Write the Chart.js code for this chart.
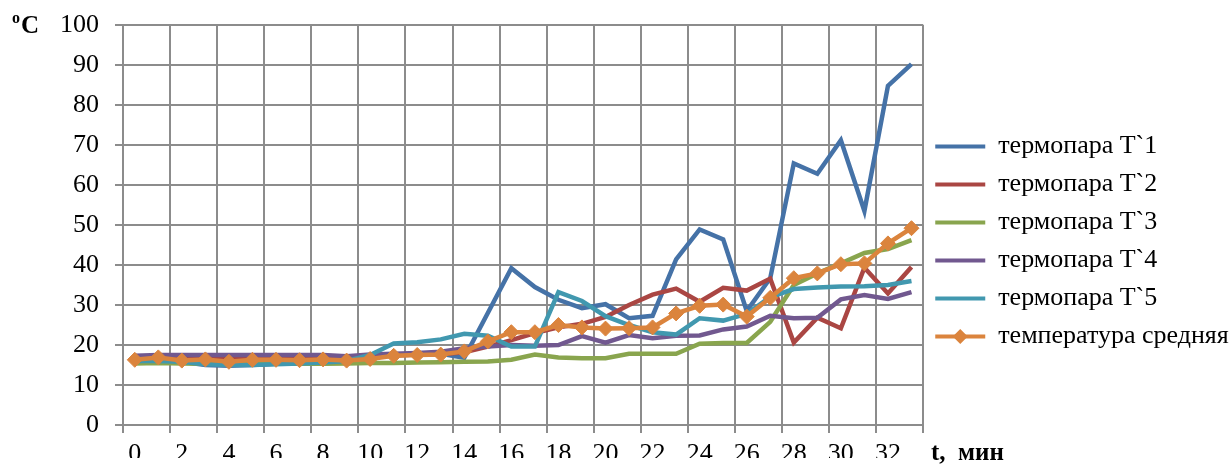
<!DOCTYPE html>
<html>
<head>
<meta charset="utf-8">
<script src="https://cdn.jsdelivr.net/npm/chart.js@4"></script>
<style>
  html, body { margin: 0; padding: 0; background: #fff; }
</style>
</head>
<body>
<canvas id="myChart" width="1231" height="466"></canvas>
<script>
const minutes = [0, 1, 2, 3, 4, 5, 6, 7, 8, 9, 10, 11, 12, 13, 14, 15, 16,
                 17, 18, 19, 20, 21, 22, 23, 24, 25, 26, 27, 28, 29, 30, 31, 32, 33];

const t1 = [16.3, 16.3, 15.8, 15.0, 14.8, 15.0, 15.3, 15.6, 16.0, 16.3, 16.8, 17.5, 17.8, 17.8, 16.8, 28.0, 39.2,
            34.5, 31.3, 29.2, 30.2, 26.7, 27.3, 41.4, 48.9, 46.4, 28.5, 36.7, 65.4, 62.8, 71.2, 53.5, 84.8, 90.2];
const t2 = [16.8, 16.9, 16.7, 16.7, 16.6, 16.7, 16.8, 16.8, 16.9, 16.8, 17.0, 17.4, 17.6, 17.7, 18.2, 19.6, 21.2,
            23.0, 24.4, 25.3, 27.0, 30.0, 32.6, 34.1, 30.8, 34.3, 33.6, 36.6, 20.6, 26.8, 24.2, 39.3, 32.9, 39.5];
const t3 = [15.4, 15.5, 15.4, 15.3, 15.3, 15.3, 15.3, 15.3, 15.3, 15.4, 15.5, 15.5, 15.6, 15.7, 15.8, 15.9, 16.3,
            17.6, 16.9, 16.7, 16.7, 17.8, 17.8, 17.8, 20.3, 20.5, 20.5, 25.8, 35.0, 37.9, 40.4, 43.0, 44.0, 46.2];
const t4 = [17.3, 17.5, 17.5, 17.5, 17.5, 17.5, 17.5, 17.5, 17.5, 17.2, 17.6, 17.8, 18.0, 18.3, 19.2, 19.6, 20.0,
            19.8, 20.0, 22.2, 20.6, 22.5, 21.7, 22.3, 22.4, 23.9, 24.6, 27.3, 26.7, 26.8, 31.4, 32.5, 31.5, 33.2];
const t5 = [16.0, 16.0, 15.8, 15.2, 15.0, 15.0, 15.2, 15.4, 15.6, 16.0, 17.5, 20.4, 20.7, 21.4, 22.8, 22.3, 19.6,
            19.6, 33.2, 31.0, 27.2, 25.0, 23.2, 22.6, 26.7, 26.1, 27.8, 32.0, 34.0, 34.4, 34.6, 34.7, 35.0, 36.0];
const avg = [16.3, 16.9, 16.1, 16.4, 15.8, 16.3, 16.3, 16.2, 16.4, 16.1, 16.5, 17.3, 17.5, 17.6, 18.4, 20.9, 23.2,
             23.2, 25.0, 24.4, 24.1, 24.2, 24.4, 27.9, 29.8, 30.1, 27.1, 31.8, 36.7, 37.9, 40.2, 40.4, 45.4, 49.2];

const seriesNames = ['термопара T`1', 'термопара T`2', 'термопара T`3', 'термопара T`4', 'термопара T`5', 'температура средняя'];
const seriesColors = ['#4572A7', '#AA4643', '#89A54E', '#71588F', '#4198AF', '#DB843D'];
const yTicks = { min: 0, max: 100, step: 10 };

const FONT = '"Liberation Serif", "Times New Roman", serif';
const FONT_SIZE = 26;
const GRID = '#8c8c8c';
const LEGEND_PAD = 12;
const LEGEND_BOX = 50;

// leave room on the right so the legend column fits next to the plot
const measure = document.createElement('canvas').getContext('2d');
measure.font = FONT_SIZE + 'px ' + FONT;
const widestName = Math.max(...seriesNames.map(s => measure.measureText(s).width));
const legendWidth = LEGEND_PAD + LEGEND_BOX + FONT_SIZE / 2 + widestName + 10;
const rightPad = Math.max(0, 1231 - 918 - legendWidth);

Chart.defaults.font.family = FONT;
Chart.defaults.font.size = FONT_SIZE;
Chart.defaults.color = '#000';

const values = [t1, t2, t3, t4, t5, avg];
const datasets = values.map((v, i) => ({
  label: seriesNames[i],
  data: v,
  borderColor: seriesColors[i],
  backgroundColor: seriesColors[i],
  borderWidth: 4.5,
  tension: 0,
  pointRadius: i === 5 ? 7.5 : 0,
  pointStyle: 'rectRot',
  pointBorderWidth: 1,
  order: 5 - i
}));

const extras = {
  id: 'extras',
  afterDraw(chart) {
    const c = chart.ctx;
    c.save();
    c.fillStyle = '#000';
    c.textBaseline = 'alphabetic';
    c.textAlign = 'left';
    c.font = 'bold 16px ' + FONT;
    c.fillText('o', 12, 23);
    c.font = 'bold 25px ' + FONT;
    c.fillText('C', 21, 33);
    c.fillText('t,  мин', 931, 460);

    // diamond marker on the legend line of the average
    const hb = chart.legend.legendHitBoxes[5];
    if (hb) {
      const cx = hb.left + LEGEND_BOX / 2;
      const cy = hb.top + FONT_SIZE / 2;
      const r = 7.5;
      c.fillStyle = seriesColors[5];
      c.beginPath();
      c.moveTo(cx, cy - r);
      c.lineTo(cx + r, cy);
      c.lineTo(cx, cy + r);
      c.lineTo(cx - r, cy);
      c.closePath();
      c.fill();
    }
    c.restore();
  }
};

new Chart(document.getElementById('myChart'), {
  type: 'line',
  data: { labels: minutes, datasets: datasets },
  options: {
    responsive: false,
    animation: false,
    layout: { padding: { top: 25, right: rightPad, bottom: 8, left: 0 } },
    plugins: {
      tooltip: { enabled: false },
      legend: {
        position: 'right',
        align: 'center',
        labels: {
          boxWidth: LEGEND_BOX,
          boxHeight: 4,
          padding: LEGEND_PAD,
          font: { size: FONT_SIZE, family: FONT },
          color: '#000',
          sort: (a, b) => a.datasetIndex - b.datasetIndex,
          generateLabels(chart) {
            const items = Chart.defaults.plugins.legend.labels.generateLabels(chart);
            items.forEach(it => { it.lineWidth = 0; it.fillStyle = it.strokeStyle; });
            return items;
          }
        }
      }
    },
    scales: {
      x: {
        type: 'category',
        offset: true,
        afterFit(scale) { scale.height = 33; },
        grid: {
          offset: true,
          lineWidth: 2,
          tickLength: 8,
          color: ctx => (ctx.index === undefined || ctx.index % 2 === 0) ? GRID : 'rgba(0,0,0,0)'
        },
        border: { color: GRID, width: 2 },
        ticks: {
          autoSkip: false,
          maxRotation: 0,
          minRotation: 0,
          padding: 6,
          callback: (v, i) => (i % 2 === 0 ? String(minutes[i]) : '')
        }
      },
      y: {
        min: yTicks.min,
        max: yTicks.max,
        afterFit(scale) {
          scale.width = 123;
          // the plot top/bottom are set by the layout padding, not by the label padding
          scale.paddingTop = 0;
          scale.paddingBottom = 0;
        },
        grid: { color: GRID, lineWidth: 2, tickLength: 8 },
        border: { color: GRID, width: 2 },
        ticks: { stepSize: yTicks.step, padding: 16 }
      }
    }
  },
  plugins: [extras]
});
</script>
</body>
</html>
